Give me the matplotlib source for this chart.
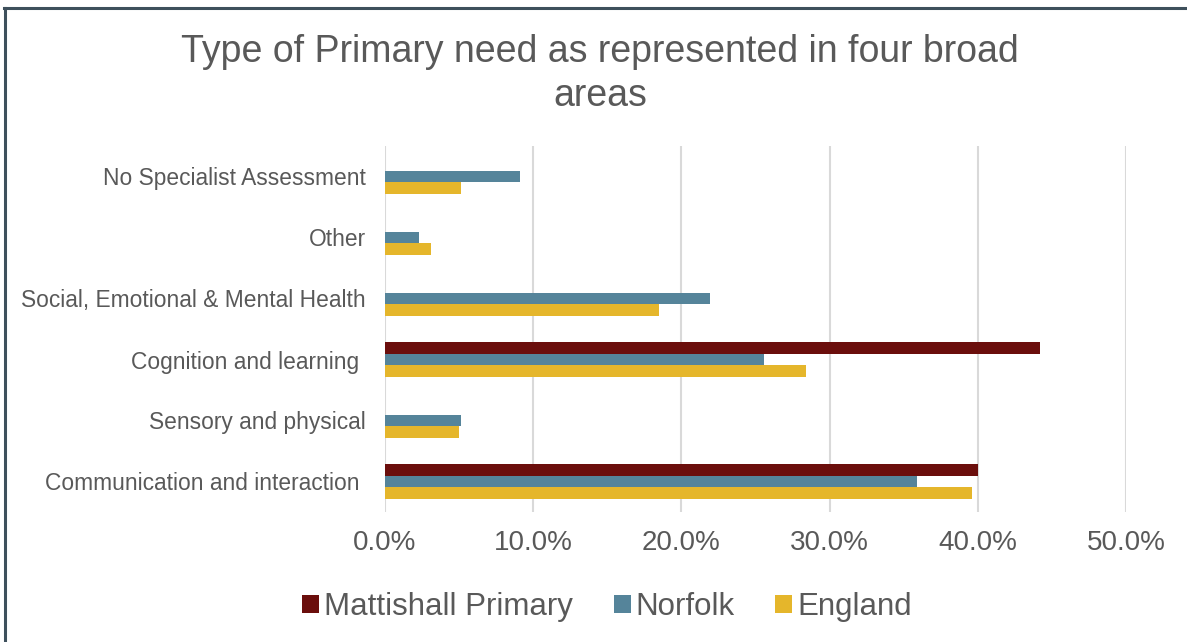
import numpy as np
import matplotlib.pyplot as plt
from matplotlib.lines import Line2D
from matplotlib.patches import Patch

plt.rcParams['font.family'] = ['Liberation Sans', 'DejaVu Sans']

# Categories listed bottom to top
categories = [
    "Communication and interaction ",
    "Sensory and physical",
    "Cognition and learning ",
    "Social, Emotional & Mental Health",
    "Other",
    "No Specialist Assessment",
]
mattishall = [40.0, 0.0, 44.2, 0.0, 0.0, 0.0]
norfolk = [35.9, 5.1, 25.6, 21.9, 2.3, 9.1]
england = [39.6, 5.0, 28.4, 18.5, 3.1, 5.1]

series_names = ["Mattishall Primary", "Norfolk", "England"]
colors = ["#6b0e0c", "#55849a", "#e5b62b"]
text_col = "#595959"

fig = plt.figure(figsize=(11.87, 6.42), dpi=100)
ax = fig.add_axes([385 / 1187, 1 - 512 / 642, 741 / 1187, 366 / 642])

y = np.arange(len(categories))
h = 0.19
for vals, off, c in zip([mattishall, norfolk, england], [h, 0, -h], colors):
    ax.barh(y + off, np.array(vals) / 100, height=h, color=c, zorder=3)

ax.set_xlim(0, 0.5)
ax.set_ylim(-0.5, len(categories) - 0.5)
ax.set_xticks(np.arange(0, 0.51, 0.1))
ax.set_xticklabels([f"{v:.1f}%" for v in np.arange(0, 51, 10)])
ax.set_yticks(y)
ax.set_yticklabels(categories)
ax.tick_params(axis='x', length=0, pad=13, labelsize=20, labelcolor=text_col)
ax.tick_params(axis='y', length=0, pad=14, labelsize=16.4, labelcolor=text_col)
ax.grid(axis='x', color="#d9d9d9", linewidth=1.5, zorder=0)
for s in ax.spines.values():
    s.set_visible(False)

fig.text(600 / 1187, 1 - 74 / 642,
         "Type of Primary need as represented in four broad\nareas",
         ha='center', va='center', fontsize=27, color=text_col, linespacing=1.27)

handles = [Patch(facecolor=c, edgecolor='none') for c in colors]
leg = fig.legend(handles, series_names, loc='center', ncol=3,
                 bbox_to_anchor=(607 / 1187, 1 - 607 / 642), frameon=False,
                 fontsize=22.5, handlelength=0.55, handleheight=0.55,
                 handletextpad=0.15, columnspacing=1.3)
for t in leg.get_texts():
    t.set_color(text_col)

# outer frame along the left and top edges
fig.add_artist(Line2D([5 / 1187, 5 / 1187], [0, 1 - 7.5 / 642],
                      transform=fig.transFigure, color="#3e505c", linewidth=2.2))
fig.add_artist(Line2D([4 / 1187, 1], [1 - 7.5 / 642, 1 - 7.5 / 642],
                      transform=fig.transFigure, color="#3e505c", linewidth=2.2))

fig.savefig("out.png", dpi=100)
